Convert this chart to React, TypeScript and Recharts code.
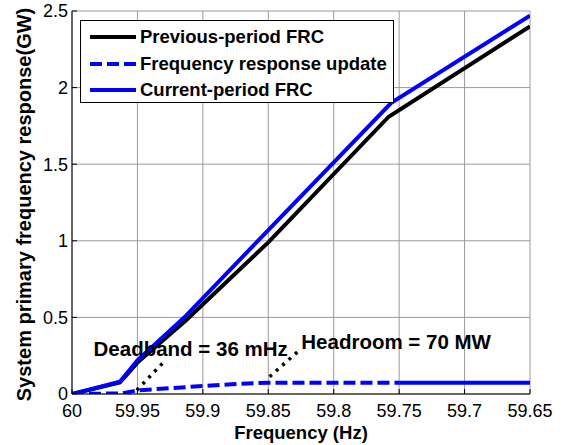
import { LineChart, Line, XAxis, YAxis, CartesianGrid, Legend, ReferenceDot } from 'recharts';

const FONT = '"Liberation Sans", Arial, Helvetica, sans-serif';

// frequency (Hz) / response (GW)
const previousFreq = [60, 59.9634, 59.95, 59.913, 59.85, 59.758, 59.65];
const previousGW = [0, 0.075, 0.205, 0.48, 0.99, 1.81, 2.4];

const currentFreq = [60, 59.9634, 59.95, 59.913, 59.85, 59.756, 59.65];
const currentGW = [0, 0.08, 0.22, 0.51, 1.07, 1.9, 2.47];

const updateFreq = [60, 59.962, 59.95, 59.925, 59.9, 59.875, 59.85, 59.75];
const updateGW = [0, 0.004, 0.024, 0.038, 0.052, 0.065, 0.074, 0.074];
const updateTailFreq = [59.75, 59.65];
const updateTailGW = [0.074, 0.074];

const deadbandFreq = [59.9505, 59.929];
const deadbandGW = [0.025, 0.217];
const headroomFreq = [59.849, 59.826];
const headroomGW = [0.113, 0.287];

const xTicks = [60, 59.95, 59.9, 59.85, 59.8, 59.75, 59.7, 59.65];
const yTicks = [0, 0.5, 1, 1.5, 2, 2.5];

const legendNames = ['Previous-period FRC', 'Frequency response update', 'Current-period FRC'];
const legendColors = ['#000000', '#0000ff', '#0000ff'];
const legendDashes = ['', '12 5', ''];

const toPoints = (xs: number[], ys: number[]) => xs.map((x, i) => ({ x, y: ys[i] }));

const previousData = toPoints(previousFreq, previousGW);
const currentData = toPoints(currentFreq, currentGW);
const updateData = toPoints(updateFreq, updateGW);
const updateTailData = toPoints(updateTailFreq, updateTailGW);
const deadbandData = toPoints(deadbandFreq, deadbandGW);
const headroomData = toPoints(headroomFreq, headroomGW);

const TICK_LEN = 5;

const BottomTick = (props: any) => {
  const { x, y, payload } = props;
  return (
    <g>
      <line x1={x} x2={x} y1={y} y2={y - TICK_LEN} stroke="#000" strokeWidth={1} />
      <text x={x} y={y + 23} textAnchor="middle" fontSize={18} fontFamily={FONT} fill="#000">
        {String(payload.value)}
      </text>
    </g>
  );
};

const LeftTick = (props: any) => {
  const { x, y, payload } = props;
  return (
    <g>
      <line x1={x} x2={x + TICK_LEN} y1={y} y2={y} stroke="#000" strokeWidth={1} />
      <text x={x - 4} y={y} dy="0.35em" textAnchor="end" fontSize={18} fontFamily={FONT} fill="#000">
        {String(payload.value)}
      </text>
    </g>
  );
};

const TopTick = (props: any) => {
  const { x, y } = props;
  return <line x1={x} x2={x} y1={y} y2={y + TICK_LEN} stroke="#000" strokeWidth={1} />;
};

const RightTick = (props: any) => {
  const { x, y } = props;
  return <line x1={x} x2={x - TICK_LEN} y1={y} y2={y} stroke="#000" strokeWidth={1} />;
};

const XTitle = (props: any) => {
  const vb = props.viewBox;
  return (
    <text x={vb.x + vb.width / 2} y={vb.y + 45} textAnchor="middle" fontSize={18.5} fontWeight="bold" fontFamily={FONT} fill="#000">
      Frequency (Hz)
    </text>
  );
};

const YTitle = (props: any) => {
  const vb = props.viewBox;
  const cx = 31;
  const cy = vb.y + vb.height / 2 + 2;
  return (
    <text x={cx} y={cy} transform={`rotate(-90, ${cx}, ${cy})`} textAnchor="middle" fontSize={20} fontWeight="bold" fontFamily={FONT} fill="#000">
      System primary frequency response(GW)
    </text>
  );
};

const renderLegend = () => (
  <div
    style={{
      position: 'relative',
      width: 314,
      height: 83,
      boxSizing: 'border-box',
      border: '1.5px solid #000',
      background: '#fff',
    }}
  >
    {legendNames.map((name, i) => (
      <div key={name} style={{ position: 'absolute', left: 0, top: 16 + i * 26.5 - 13, height: 26, width: '100%' }}>
        <svg width={50} height={26} style={{ position: 'absolute', left: 9, top: 0 }}>
          <line x1={0} x2={46} y1={13} y2={13} stroke={legendColors[i]} strokeWidth={4} strokeDasharray={legendDashes[i] || undefined} />
        </svg>
        <span
          style={{
            position: 'absolute',
            left: 59,
            top: 0,
            lineHeight: '26px',
            fontSize: 18.5,
            fontWeight: 'bold',
            fontFamily: FONT,
            color: '#000',
            whiteSpace: 'nowrap',
          }}
        >
          {name}
        </span>
      </div>
    ))}
  </div>
);

const noteLabel = (value: string) => ({
  value,
  position: 'center' as const,
  fill: '#000',
  fontSize: 20.5,
  fontWeight: 'bold',
  fontFamily: FONT,
});

export default function App() {
  return (
    <div style={{ position: 'absolute', left: 0, top: 0, width: 565, height: 445, background: '#fff' }}>
      <LineChart width={565} height={445} margin={{ top: 11, right: 35, bottom: 0, left: 0 }}>
        <CartesianGrid stroke="#9a9a9a" strokeWidth={1} horizontalValues={yTicks} verticalValues={xTicks} />
        <XAxis
          dataKey="x"
          type="number"
          domain={[59.65, 60]}
          reversed
          allowDataOverflow
          ticks={xTicks}
          interval={0}
          height={51}
          tickSize={0}
          tickMargin={0}
          tickLine={false}
          axisLine={{ stroke: '#000', strokeWidth: 1 }}
          tick={BottomTick}
          label={{ content: XTitle }}
        />
        <XAxis
          xAxisId="top"
          orientation="top"
          dataKey="x"
          type="number"
          domain={[59.65, 60]}
          reversed
          allowDataOverflow
          ticks={xTicks}
          interval={0}
          height={0}
          tickSize={0}
          tickMargin={0}
          tickLine={false}
          axisLine={{ stroke: '#000', strokeWidth: 1 }}
          tick={TopTick}
        />
        <YAxis
          type="number"
          domain={[0, 2.5]}
          allowDataOverflow
          ticks={yTicks}
          interval={0}
          width={72}
          tickSize={0}
          tickMargin={0}
          tickLine={false}
          axisLine={{ stroke: '#000', strokeWidth: 1 }}
          tick={LeftTick}
          label={{ content: YTitle }}
        />
        <YAxis
          yAxisId="right"
          orientation="right"
          type="number"
          domain={[0, 2.5]}
          allowDataOverflow
          ticks={yTicks}
          interval={0}
          width={0}
          tickSize={0}
          tickMargin={0}
          tickLine={false}
          axisLine={{ stroke: '#000', strokeWidth: 1 }}
          tick={RightTick}
        />
        <Legend
          layout="vertical"
          align="center"
          verticalAlign="middle"
          content={renderLegend}
          wrapperStyle={{ position: 'absolute', left: 80, top: 20, width: 314, height: 83 }}
        />

        <Line data={previousData} dataKey="y" name="Previous-period FRC" stroke="#000000" strokeWidth={4} dot={false} activeDot={false} isAnimationActive={false} />
        <Line data={currentData} dataKey="y" name="Current-period FRC" stroke="#0000ff" strokeWidth={4} dot={false} activeDot={false} isAnimationActive={false} />
        <Line data={updateData} dataKey="y" name="Frequency response update" stroke="#0000ff" strokeWidth={4} strokeDasharray="12 5" dot={false} activeDot={false} isAnimationActive={false} />
        <Line data={updateTailData} dataKey="y" name="update tail" legendType="none" stroke="#0000ff" strokeWidth={4} dot={false} activeDot={false} isAnimationActive={false} />

        {/* annotation pointers */}
        <Line data={deadbandData} dataKey="y" name="deadband" legendType="none" stroke="#000" strokeWidth={3.5} strokeDasharray="3 5.5" dot={false} activeDot={false} isAnimationActive={false} />
        <Line data={headroomData} dataKey="y" name="headroom" legendType="none" stroke="#000" strokeWidth={3.5} strokeDasharray="3 5.5" dot={false} activeDot={false} isAnimationActive={false} />

        <ReferenceDot x={59.9093} y={0.294} r={0} fill="none" stroke="none" label={noteLabel('Deadband = 36 mHz')} />
        <ReferenceDot x={59.7523} y={0.341} r={0} fill="none" stroke="none" label={noteLabel('Headroom = 70 MW')} />
      </LineChart>
    </div>
  );
}
